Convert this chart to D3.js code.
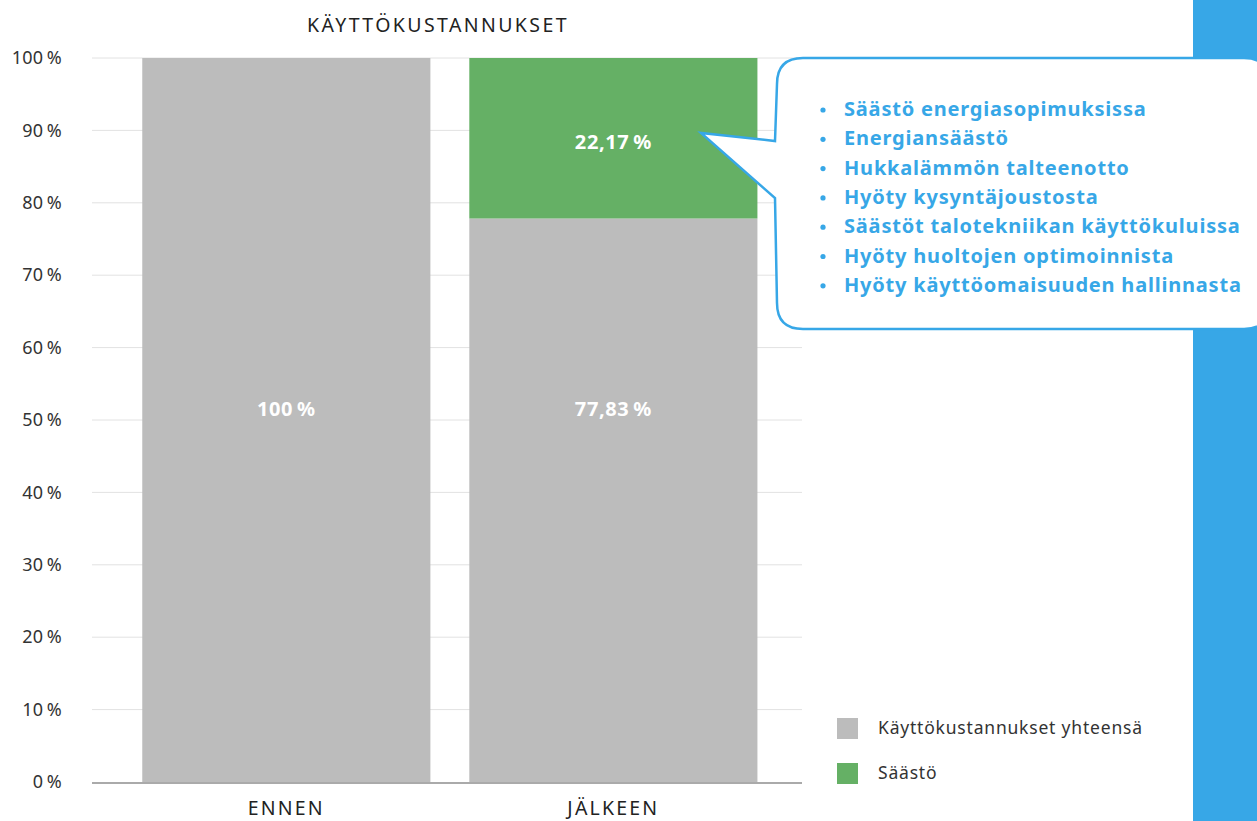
<!DOCTYPE html>
<html>
<head>
<meta charset="utf-8">
<title>Käyttökustannukset</title>
<style>
  body { margin: 0; background: #fff; }
  svg { display: block; font-family: "Noto Sans", "Open Sans", sans-serif; }
</style>
</head>
<body>
<div id="chart"></div>
<script src="https://cdn.jsdelivr.net/npm/d3@7"></script>
<script>
// data
var categories = ["ENNEN", "JÄLKEEN"];
var totalCosts = [100, 77.83];   // Käyttökustannukset yhteensä
var savings = [0, 22.17];        // Säästö
var yTicks = [0, 10, 20, 30, 40, 50, 60, 70, 80, 90, 100];
var seriesNames = ["Käyttökustannukset yhteensä", "Säästö"];
var benefits = [
  "Säästö energiasopimuksissa",
  "Energiansäästö",
  "Hukkalämmön talteenotto",
  "Hyöty kysyntäjoustosta",
  "Säästöt talotekniikan käyttökuluissa",
  "Hyöty huoltojen optimoinnista",
  "Hyöty käyttöomaisuuden hallinnasta"
];

var W = 1257, H = 821;
var gray = "#bcbcbc", green = "#65b065", blue = "#37a7e7";

var svg = d3.select("#chart").append("svg").attr("width", W).attr("height", H);

var x = d3.scaleBand().domain(categories).range([92, 802])
  .paddingInner(0.119).paddingOuter(0.145).align(0.53);
var y = d3.scaleLinear().domain([0, 100]).range([782, 58]);

function pct(v) { return d3.format(",.2~f")(v).replace(".", ",") + "\u2009%"; }

// right blue panel
svg.append("rect").attr("x", 1193).attr("y", 0).attr("width", W - 1193).attr("height", H).attr("fill", blue);

// title
svg.append("text").attr("x", 438).attr("y", 32).attr("text-anchor", "middle")
  .attr("font-size", 19.5).attr("letter-spacing", 2.4).attr("fill", "#222").text("KÄYTTÖKUSTANNUKSET");

// gridlines
svg.append("g").selectAll("line").data(yTicks.filter(function(d) { return d > 0; })).enter().append("line")
  .attr("x1", 92).attr("x2", 802)
  .attr("y1", function(d) { return y(d); }).attr("y2", function(d) { return y(d); })
  .attr("stroke", "#e2e2e2").attr("stroke-width", 1);

// y axis labels
var yAxis = d3.axisLeft(y).tickValues(yTicks).tickSize(0).tickPadding(0)
  .tickFormat(function(d) { return d + "\u2009%"; });
var gy = svg.append("g").attr("transform", "translate(62,0)").call(yAxis);
gy.select(".domain").remove();
gy.selectAll("text").attr("font-size", 18).attr("letter-spacing", 0.3).attr("fill", "#333")
  .attr("font-family", "'Noto Sans', sans-serif");

// bars
var stacks = categories.map(function(c, i) {
  return { cat: c, total: totalCosts[i], save: savings[i] };
});

svg.append("g").selectAll("rect").data(stacks).enter().append("rect")
  .attr("x", function(d) { return x(d.cat); })
  .attr("width", x.bandwidth())
  .attr("y", function(d) { return y(d.total); })
  .attr("height", function(d) { return y(0) - y(d.total); })
  .attr("fill", gray);

svg.append("g").selectAll("rect").data(stacks.filter(function(d) { return d.save > 0; })).enter().append("rect")
  .attr("x", function(d) { return x(d.cat); })
  .attr("width", x.bandwidth())
  .attr("y", function(d) { return y(d.total + d.save); })
  .attr("height", function(d) { return y(d.total) - y(d.total + d.save); })
  .attr("fill", green);

// bar labels
var lbl = svg.append("g").attr("font-size", 20).attr("letter-spacing", 0.6).attr("font-weight", 700)
  .attr("fill", "#fff").attr("text-anchor", "middle");
lbl.selectAll("text.tot").data(stacks).enter().append("text")
  .attr("x", function(d) { return x(d.cat) + x.bandwidth() / 2; })
  .attr("y", y(50) - 4)
  .text(function(d) { return pct(d.total); });
lbl.selectAll("text.sav").data(stacks.filter(function(d) { return d.save > 0; })).enter().append("text")
  .attr("x", function(d) { return x(d.cat) + x.bandwidth() / 2; })
  .attr("y", function(d) { return y(d.total + d.save / 2) + 11; })
  .text(function(d) { return pct(d.save); });

// baseline
svg.append("line").attr("x1", 92).attr("x2", 802).attr("y1", y(0) + 1).attr("y2", y(0) + 1)
  .attr("stroke", "#aaa").attr("stroke-width", 2);

// category labels
svg.append("g").selectAll("text").data(categories).enter().append("text")
  .attr("x", function(d) { return x(d) + x.bandwidth() / 2; })
  .attr("y", 815).attr("text-anchor", "middle")
  .attr("font-size", 19.5).attr("letter-spacing", 2.2).attr("fill", "#222")
  .text(function(d) { return d; });

// legend
var leg = svg.append("g").selectAll("g").data(seriesNames).enter().append("g")
  .attr("transform", function(d, i) { return "translate(837," + (718 + i * 45) + ")"; });
leg.append("rect").attr("width", 21).attr("height", 21).attr("fill", function(d, i) { return i ? green : gray; });
leg.append("text").attr("x", 41).attr("y", 16).attr("font-size", 17.5).attr("letter-spacing", 0.8)
  .attr("fill", "#333").text(function(d) { return d; });

// callout bubble
var r = 26, L = 777, T = 58, B = 329, R = 1270;
var path = "M" + (L + r) + "," + T + " H" + (R - r) + " Q" + R + "," + T + " " + R + "," + (T + r) +
  " V" + (B - r) + " Q" + R + "," + B + " " + (R - r) + "," + B +
  " H" + (L + r) + " Q" + L + "," + B + " " + L + "," + (B - r) +
  " L" + (L - 2) + ",198 L701,133 L" + (L - 2) + ",141 L" + L + "," + (T + r) +
  " Q" + L + "," + T + " " + (L + r) + "," + T + " Z";
svg.append("path").attr("d", path).attr("fill", "#fff").attr("stroke", blue).attr("stroke-width", 2.5)
  .attr("stroke-linejoin", "miter");

var items = svg.append("g").selectAll("g").data(benefits).enter().append("g")
  .attr("transform", function(d, i) { return "translate(0," + (116 + i * 29.3) + ")"; });
items.append("circle").attr("cx", 823).attr("cy", -6).attr("r", 2.6).attr("fill", blue);
items.append("text").attr("x", 844).attr("font-size", 20).attr("letter-spacing", 0.8)
  .attr("font-weight", 700).attr("fill", blue)
  .text(function(d) { return d; });
</script>
</body>
</html>
